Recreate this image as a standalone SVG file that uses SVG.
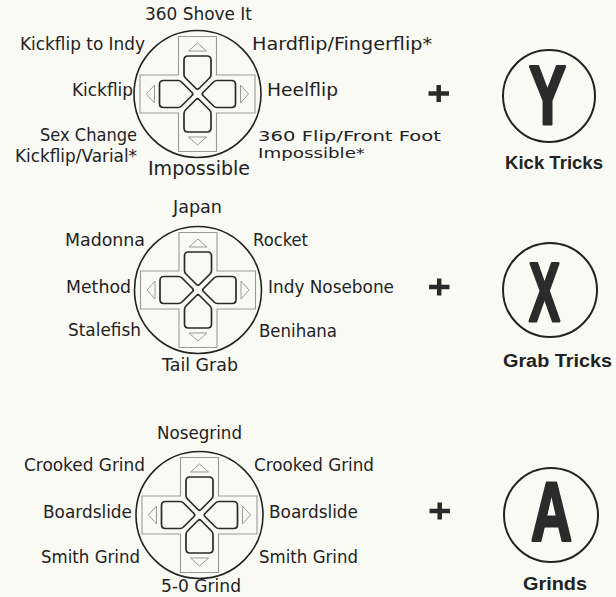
<svg xmlns="http://www.w3.org/2000/svg" xmlns:xlink="http://www.w3.org/1999/xlink" width="616" height="597" viewBox="0 0 616 597">
<style>
.t{font-family:"DejaVu Sans","Liberation Sans",sans-serif;font-size:17.5px;fill:#222}
.s{font-size:14.6px}
.b{font-family:"Liberation Sans",Arial,sans-serif;font-weight:bold;font-size:18px;fill:#222}
.big{font-family:"Liberation Sans",Arial,sans-serif;font-weight:bold;font-size:84px;fill:#2b2b2b;stroke:#2b2b2b;stroke-width:3;stroke-linejoin:round}
.ring{fill:none;stroke:#222;stroke-width:1.6}
.cross{fill:none;stroke:#999;stroke-width:1.1}
.tri{fill:none;stroke:#999;stroke-width:1}
.btn{fill:none;stroke:#2a2a2a;stroke-width:1.7;stroke-linejoin:round}
.bring{fill:none;stroke:#222;stroke-width:2}
.plus{stroke:#2a2a2a;stroke-width:4.5}
</style>
<defs>
<path id="btn" d="M-9.5,-38H9.5Q13.5,-38 13.5,-34V-19.5Q13.5,-17.5 12,-16L1.5,-5.5Q0,-4 -1.5,-5.5L-12,-16Q-13.5,-17.5 -13.5,-19.5V-34Q-13.5,-38 -9.5,-38Z"/>
<g id="dpad">
<path class="cross" d="M-19,-57.5H19V-19H57.5V19H19V57.5H-19V19H-57.5V-19H-19Z"/>
<path class="tri" d="M-9,-43L0,-51L9,-43Z"/>
<path class="tri" d="M-9,43L0,51L9,43Z"/>
<path class="tri" d="M-43,-9L-51,0L-43,9Z"/>
<path class="tri" d="M43,-9L51,0L43,9Z"/>
<use xlink:href="#btn" class="btn"/>
<use xlink:href="#btn" class="btn" transform="rotate(90)"/>
<use xlink:href="#btn" class="btn" transform="rotate(180)"/>
<use xlink:href="#btn" class="btn" transform="rotate(270)"/>
<circle class="ring" r="63.5"/>
</g>
</defs>
<rect width="616" height="597" fill="#fafaf5"/>
<g id="connectors"></g>

<g id="dpad-kick">
<use xlink:href="#dpad" transform="translate(197.5,94)"/>
<text class="t" x="145" y="20" textLength="107" lengthAdjust="spacingAndGlyphs">360 Shove It</text>
<text class="t" x="20" y="50" textLength="125" lengthAdjust="spacingAndGlyphs">Kickflip to Indy</text>
<text class="t" x="252" y="50" textLength="180" lengthAdjust="spacingAndGlyphs">Hardflip/Fingerflip*</text>
<text class="t" x="72" y="96" textLength="61" lengthAdjust="spacingAndGlyphs">Kickflip</text>
<text class="t" x="267" y="96" textLength="71" lengthAdjust="spacingAndGlyphs">Heelflip</text>
<text class="t" x="40" y="141" textLength="97" lengthAdjust="spacingAndGlyphs">Sex Change</text>
<text class="t" x="15" y="162" textLength="122" lengthAdjust="spacingAndGlyphs">Kickflip/Varial*</text>
<text class="t" x="148" y="175" style="font-size:19px" textLength="102" lengthAdjust="spacingAndGlyphs">Impossible</text>
<text class="t s" x="258" y="141" textLength="183" lengthAdjust="spacingAndGlyphs">360 Flip/Front Foot</text>
<text class="t s" x="258" y="158" textLength="107" lengthAdjust="spacingAndGlyphs">Impossible*</text>
</g>

<g id="dpad-grab">
<use xlink:href="#dpad" transform="translate(198,290)"/>
<text class="t" x="173" y="213" textLength="49" lengthAdjust="spacingAndGlyphs">Japan</text>
<text class="t" x="65" y="246" textLength="80" lengthAdjust="spacingAndGlyphs">Madonna</text>
<text class="t" x="253" y="246" textLength="55" lengthAdjust="spacingAndGlyphs">Rocket</text>
<text class="t" x="66" y="293" textLength="65" lengthAdjust="spacingAndGlyphs">Method</text>
<text class="t" x="268" y="293" textLength="126" lengthAdjust="spacingAndGlyphs">Indy Nosebone</text>
<text class="t" x="68" y="336" textLength="73" lengthAdjust="spacingAndGlyphs">Stalefish</text>
<text class="t" x="259" y="337" textLength="78" lengthAdjust="spacingAndGlyphs">Benihana</text>
<text class="t" x="162" y="371" textLength="76" lengthAdjust="spacingAndGlyphs">Tail Grab</text>
</g>

<g id="dpad-grind">
<use xlink:href="#dpad" transform="translate(199.5,515)"/>
<text class="t" x="157" y="439" textLength="85" lengthAdjust="spacingAndGlyphs">Nosegrind</text>
<text class="t" x="24" y="471" textLength="121" lengthAdjust="spacingAndGlyphs">Crooked Grind</text>
<text class="t" x="254" y="471" textLength="120" lengthAdjust="spacingAndGlyphs">Crooked Grind</text>
<text class="t" x="43" y="518" textLength="89" lengthAdjust="spacingAndGlyphs">Boardslide</text>
<text class="t" x="269" y="518" textLength="89" lengthAdjust="spacingAndGlyphs">Boardslide</text>
<text class="t" x="41" y="563" textLength="99" lengthAdjust="spacingAndGlyphs">Smith Grind</text>
<text class="t" x="259" y="563" textLength="99" lengthAdjust="spacingAndGlyphs">Smith Grind</text>
<text class="t" x="161" y="592" textLength="80" lengthAdjust="spacingAndGlyphs">5-0 Grind</text>
</g>

<g id="plus-1"><path class="plus" d="M428.5,93.5H449M438.7,85V102"/></g>
<g id="plus-2"><path class="plus" d="M429,287H449.5M439.2,278.5V295.5"/></g>
<g id="plus-3"><path class="plus" d="M429.5,511H450M439.7,502.5V519.5"/></g>

<g id="button-y">
<circle class="bring" cx="549" cy="96" r="46"/>
<text class="big" x="529" y="124" textLength="37" lengthAdjust="spacingAndGlyphs">Y</text>
<text class="b" x="505" y="169" textLength="98" lengthAdjust="spacingAndGlyphs">Kick Tricks</text>
</g>
<g id="button-x">
<circle class="bring" cx="550" cy="290" r="47"/>
<text class="big" x="529" y="321" textLength="31" lengthAdjust="spacingAndGlyphs">X</text>
<text class="b" x="503" y="367" textLength="109" lengthAdjust="spacingAndGlyphs">Grab Tricks</text>
</g>
<g id="button-a">
<circle class="bring" cx="551" cy="515" r="47"/>
<text class="big" x="531" y="541" textLength="41" lengthAdjust="spacingAndGlyphs">A</text>
<text class="b" x="523" y="590" textLength="64" lengthAdjust="spacingAndGlyphs">Grinds</text>
</g>
</svg>
